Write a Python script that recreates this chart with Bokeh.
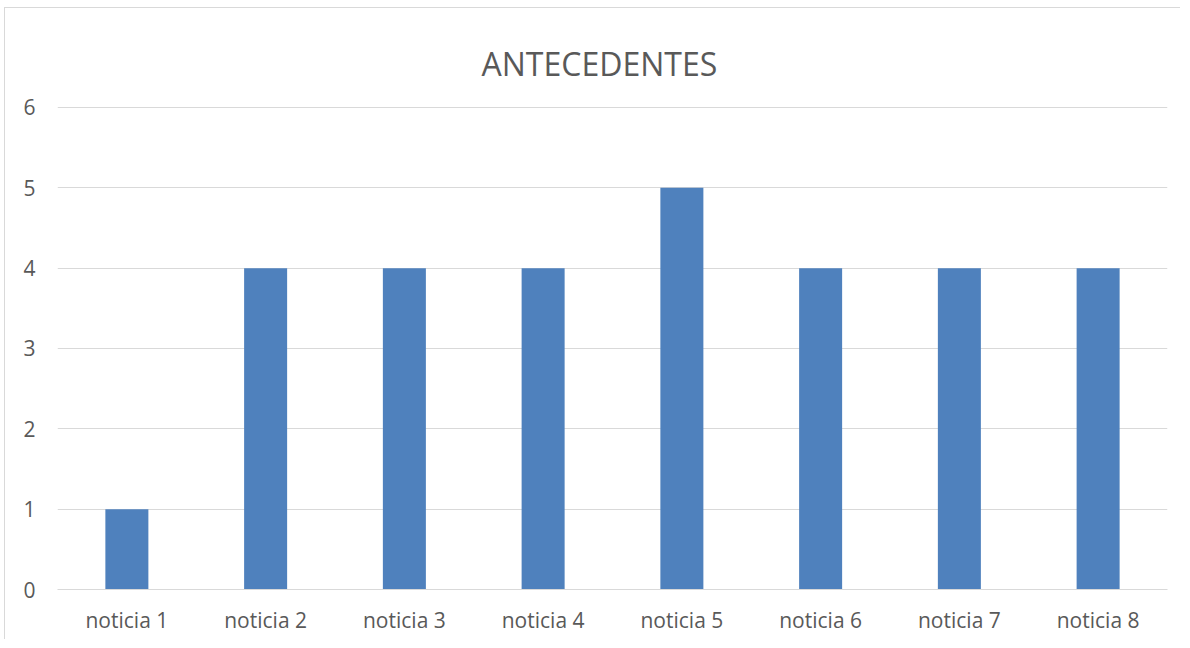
from bokeh.plotting import figure
from bokeh.models import FactorRange, Range1d, FixedTicker
from bokeh.embed import file_html
from bokeh.resources import INLINE

categories = ["noticia 1", "noticia 2", "noticia 3", "noticia 4",
              "noticia 5", "noticia 6", "noticia 7", "noticia 8"]
values = [1, 4, 4, 4, 5, 4, 4, 4]
y_ticks = [0, 1, 2, 3, 4, 5, 6]
title_text = "ANTECEDENTES"

FONT = "Open Sans"
TXT = "#595959"
GRID = "#d9d9d9"

p = figure(width=1176, height=632, x_range=FactorRange(*categories),
           y_range=Range1d(0, 6.012), output_backend="svg", toolbar_location=None,
           min_border_left=52, min_border_right=14, min_border_top=98,
           min_border_bottom=51, title=title_text)
p.styles = {"border-left": "1px solid #d9d9d9", "border-top": "1px solid #d9d9d9",
            "margin-left": "4px", "margin-top": "7px"}
p.outline_line_color = None
p.background_fill_color = "white"
p.border_fill_color = "white"

p.title.align = "left"
p.title.text_font = FONT
p.title.text_font_size = "32px"
p.title.text_font_style = "normal"
p.title.text_color = TXT
p.title.standoff = 44
p.title.offset = 424
p.title.text_line_height = 0.8

p.vbar(x=categories, top=values, width=0.31, fill_color="#4F81BD", line_color=None)

p.xgrid.grid_line_color = None
p.ygrid.grid_line_color = GRID
p.ygrid.grid_line_width = 1
p.yaxis.ticker = FixedTicker(ticks=y_ticks)

for ax in (p.xaxis, p.yaxis):
    ax.major_tick_line_color = None
    ax.minor_tick_line_color = None
    ax.major_label_text_font = FONT
    ax.major_label_text_color = TXT
    ax.major_label_text_font_size = "21px"
p.yaxis.axis_line_color = None
p.yaxis.major_label_standoff = 16
p.xaxis.axis_line_color = GRID
p.xaxis.major_label_standoff = 10

open("out.html", "w").write(file_html(p, INLINE))
